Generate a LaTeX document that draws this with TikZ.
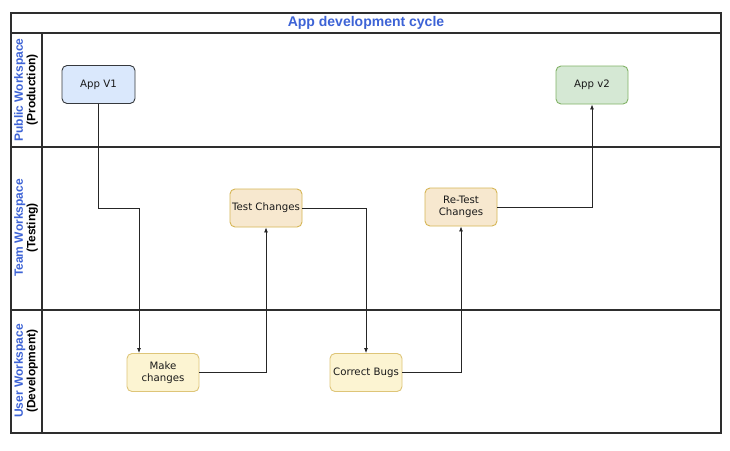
\documentclass[tikz,border=0pt]{standalone}
\usepackage{fontspec}
\setmainfont{Liberation Sans}
\newfontfamily\nodefont{DejaVu Sans}
\usetikzlibrary{arrows.meta}
\definecolor{titleblue}{HTML}{3D63D6}
\definecolor{frame}{HTML}{2E2E2E}
\definecolor{v1fill}{HTML}{DAE8FC}
\definecolor{v1draw}{HTML}{36393D}
\definecolor{v2fill}{HTML}{D5E8D4}
\definecolor{v2draw}{HTML}{82B366}
\definecolor{tanfill}{HTML}{F7E8CF}
\definecolor{yelfill}{HTML}{FCF4D2}
\definecolor{golddraw}{HTML}{D6B656}
\tikzset{
  x=1pt, y=-1pt,
  lanebox/.style={draw=frame, line width=1.1pt},
  proc/.style={rounded corners=5pt, minimum width=72pt, minimum height=38pt, inner sep=1pt,
    align=center, font=\nodefont\fontsize{10.2}{12.5}\selectfont, text=black!90, line width=0.9pt},
  v1box/.style={proc, fill=v1fill, draw=v1draw, minimum width=73pt},
  v2box/.style={proc, fill=v2fill, draw=v2draw},
  tanbox/.style={proc, fill=tanfill, draw=golddraw},
  yelbox/.style={proc, fill=yelfill, draw=golddraw!80},
  flow/.style={draw=black!85, line width=0.8pt, -{Latex[length=5pt,width=4pt]}},
  lanelabel/.style={rotate=90, align=center, font=\bfseries\fontsize{12}{12.5}\selectfont, inner sep=0pt},
}
\begin{document}
\begin{tikzpicture}
\useasboundingbox (0,0) rectangle (730,450);
\fill[white] (0,0) rectangle (730,450);
% frame
\draw[lanebox] (11,13) rectangle (721,433);
\draw[lanebox] (11,33) -- (721,33);
\draw[lanebox] (11,147) -- (721,147);
\draw[lanebox] (11,310) -- (721,310);
\draw[lanebox] (42,33) -- (42,433);
% title
\node[font=\bfseries\fontsize{14}{14}\selectfont, text=titleblue] (title) at (366,23) {App development cycle};
% lane labels
\node[lanelabel] (lane1) at (26,90) {\textcolor{titleblue}{Public Workspace}\\(Production)};
\node[lanelabel] (lane2) at (26,228) {\textcolor{titleblue}{Team Workspace}\\(Testing)};
\node[lanelabel] (lane3) at (26,371) {\textcolor{titleblue}{User Workspace}\\(Development)};
% nodes
\node[v1box] (v1) at (98.5,84.5) {App V1};
\node[v2box] (v2) at (592,85) {App v2};
\node[tanbox] (test) at (266,208) {Test Changes};
\node[tanbox] (retest) at (461,207) {Re-Test\\Changes};
\node[yelbox] (make) at (163,372.5) {Make\\changes};
\node[yelbox] (bugs) at (366,372.5) {Correct Bugs};
% connectors
\draw[flow] (v1.south) |- (139,208) -- (make.north -| 139,0);
\draw[flow] (make.east) -| (test.south);
\draw[flow] (test.east) -| (bugs.north);
\draw[flow] (bugs.east) -| (retest.south);
\draw[flow] (retest.east) -| (v2.south);
\end{tikzpicture}
\end{document}
